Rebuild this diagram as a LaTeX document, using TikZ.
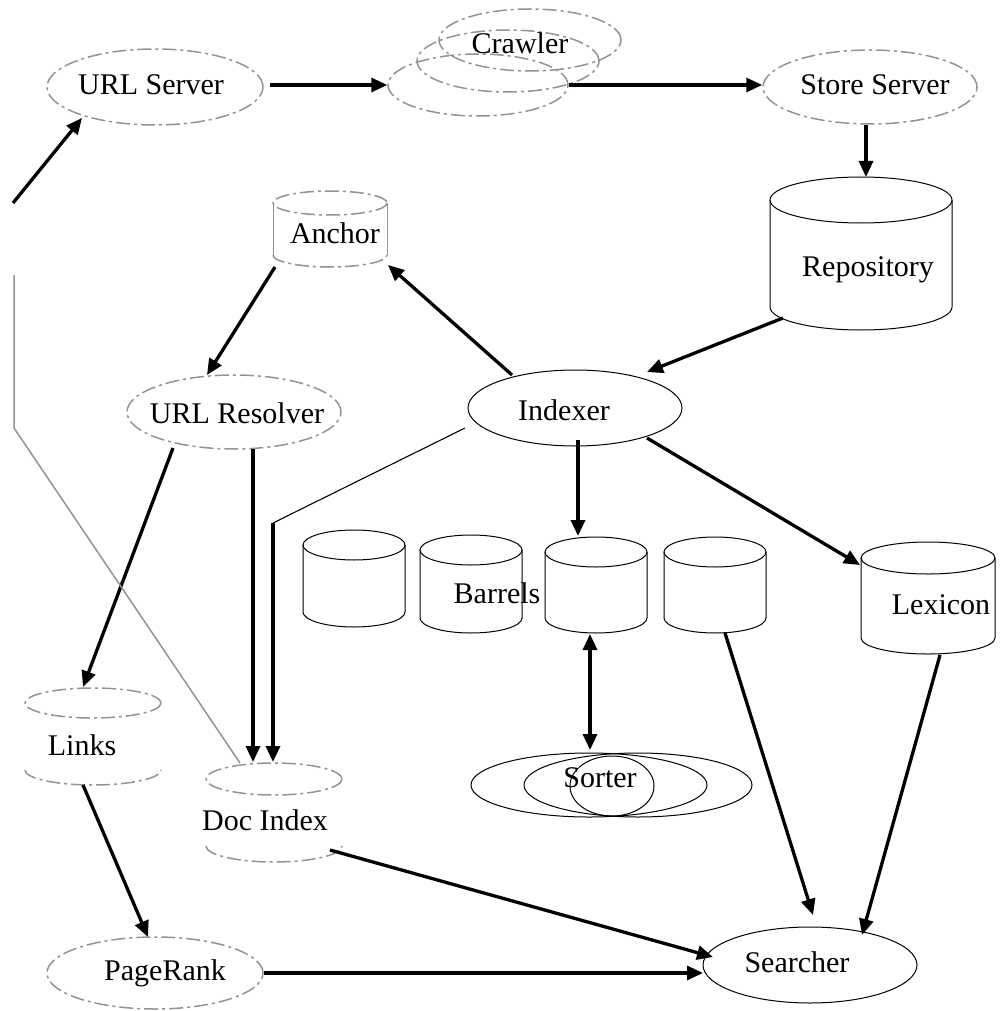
\documentclass[tikz,border=0pt]{standalone}
\usepackage{fontspec}
\setmainfont{Liberation Serif}
\usetikzlibrary{arrows.meta,shapes.geometric}
\newcommand{\solidcyl}[6]{%
  \draw[#1] (#2,#3) ellipse [x radius=#4, y radius=#5];
  \draw[#1] (#2-#4,#3) -- (#2-#4,#6) arc[start angle=180,end angle=0,x radius=#4,y radius=#5] -- (#2+#4,#3);
}
\newcommand{\opencyl}[6]{%
  \draw[#1] (#2,#3) ellipse [x radius=#4, y radius=#5];
  \draw[#1] (#2-#4,#6) arc[start angle=180,end angle=0,x radius=#4,y radius=#5];
}
\begin{document}
\begin{tikzpicture}[x=1pt,y=-1pt,
  lbl/.style={font=\fontsize{30}{36}\selectfont, inner sep=0pt, anchor=center},
  dshape/.style={draw=gray!85, line width=1.5pt, dash pattern=on 14pt off 4pt on 3pt off 4pt},
  sshape/.style={draw=black, line width=1pt},
  ell/.style={ellipse, inner sep=0pt},
  hold/.style={inner sep=0pt, minimum size=1pt},
  arrowtip/.tip={Triangle[length=16pt,width=14pt]},
  conn/.style={line width=3.3pt, -arrowtip},
  biconn/.style={line width=3.3pt, arrowtip-arrowtip},
  thinline/.style={line width=1.1pt},
  grayline/.style={draw=gray!85, line width=1.5pt},
]
\useasboundingbox (0,0) rectangle (1000,1011);

% ---- ellipse nodes ----
\node[ell,dshape,minimum width=216pt,minimum height=76pt] (urls) at (155,87) {};
\node[lbl] (urlsT) at (151,85) {URL Server};

\node[ell,dshape,minimum width=180pt,minimum height=62pt] (c1) at (478,85) {};
\node[ell,dshape,minimum width=182pt,minimum height=62pt] (c2) at (508,61) {};
\node[ell,dshape,minimum width=182pt,minimum height=62pt] (c3) at (530,40) {};
\node[lbl] (crawlT) at (520,43) {Crawler};

\node[ell,dshape,minimum width=214pt,minimum height=74pt] (store) at (870,87) {};
\node[lbl] (storeT) at (875,85) {Store Server};

\node[ell,sshape,minimum width=214pt,minimum height=76pt] (indexer) at (575,408) {};
\node[lbl] (indexerT) at (564,410) {Indexer};

\node[ell,dshape,minimum width=214pt,minimum height=74pt] (resolver) at (234,412) {};
\node[lbl] (resolverT) at (237,413) {URL Resolver};

\node[ell,sshape,minimum width=236pt,minimum height=64pt] (sA) at (589,785) {};
\node[ell,sshape,minimum width=228pt,minimum height=64pt] (sB) at (638,785) {};
\node[ell,sshape,minimum width=84pt,minimum height=60pt] (sC) at (612,786) {};
\node[lbl] (sorterT) at (600,778) {Sorter};

\node[ell,dshape,minimum width=216pt,minimum height=72pt] (pr) at (155,973) {};
\node[lbl] (prT) at (165,973) {PageRank};

\node[ell,sshape,minimum width=214pt,minimum height=76pt] (searcher) at (810,965) {};
\node[lbl] (searcherT) at (797,962) {Searcher};

% ---- cylinders ----
\solidcyl{sshape}{861}{200}{91}{23}{307}
\node[lbl] (repoT) at (868,270) {Repository};

\draw[dshape] (330,203) ellipse [x radius=57, y radius=12];
\draw[grayline,line width=1pt] (273,203) -- (273,255);
\draw[grayline,line width=1pt] (387,203) -- (387,255);
\draw[dshape] (273,255) arc[start angle=180,end angle=0,x radius=57,y radius=12];
\node[lbl] (anchorT) at (335,233) {Anchor};

\solidcyl{sshape}{354}{545}{51}{15}{612}
\solidcyl{sshape}{471}{550}{51}{15}{618}
\solidcyl{sshape}{596}{552}{51}{15}{618}
\solidcyl{sshape}{715}{552}{51}{15}{618}
\node[hold] (b1) at (354,580) {};
\node[hold] (b2) at (471,585) {};
\node[hold] (b3) at (596,585) {};
\node[hold] (b4) at (715,585) {};
\node[lbl] (barrelsT) at (497,593) {Barrels};

\solidcyl{sshape}{928}{558}{67}{16}{638}
\node[lbl] (lexT) at (941,605) {Lexicon};

\opencyl{dshape}{93}{703}{68}{15}{770}
\node[lbl] (linksT) at (82,745) {Links};

\opencyl{dshape}{274}{779}{68}{16}{846}
\node[lbl] (docT) at (265,820) {Doc Index};

% ---- connectors ----
\draw[conn] ([xshift=6pt,yshift=2pt]urls.east) -- (c1.west);
\draw[conn] (c1.east) -- ([yshift=2pt]store.west);
\draw[conn] ([shift={(-4,38)}]store.center) -- ([shift={(-2,-93)}]repoT.center);
\draw[conn] ([shift={(-85,48)}]repoT.center) -- ([shift={(72,-36)}]indexer.center);
\draw[conn] ([shift={(-63,-33)}]indexer.center) -- ([shift={(53,32)}]anchorT.center);
\draw[conn] ([shift={(-60,34)}]anchorT.center) -- ([shift={(-27,-37)}]resolver.center);
\draw[conn] ([shift={(-61,36)}]resolver.center) -- ([shift={(1,-58)}]linksT.center);
\draw[conn] ([shift={(19,37)}]resolver.center) -- ([shift={(-12,-58)}]docT.center);
\coordinate (bend) at (273,523);
\draw[thinline] ([shift={(-110,20)}]indexer.center) -- (bend);
\draw[conn] (bend) -- ([shift={(8,-58)}]docT.center);
\draw[conn] ([shift={(1,40)}]linksT.center) -- ([shift={(-7,-36)}]pr.center);
\draw[conn] (pr.east) -- ([shift={(-107,8)}]searcher.center);
\draw[conn] ([shift={(65,30)}]docT.center) -- ([shift={(-97,-8)}]searcher.center);
\draw[conn] ([shift={(10,48)}]b4.center) -- ([shift={(3,-50)}]searcher.center);
\draw[conn] ([shift={(-1,50)}]lexT.center) -- ([shift={(52,-30)}]searcher.center);
\draw[conn] ([shift={(72,30)}]indexer.center) -- ([shift={(-81,-40)}]lexT.center);
\draw[conn] ([shift={(3,32)}]indexer.center) -- ([shift={(-18,-49)}]b3.center);
\draw[biconn] ([shift={(-6,49)}]b3.center) -- ([shift={(-10,-28)}]sorterT.center);

\coordinate (g1) at (14,428);
\coordinate (g2) at (14,275);
\coordinate (g3) at (13,203);
\draw[grayline] ([shift={(-25,-57)}]docT.center) -- (g1) -- (g2);
\draw[conn] (g3) -- ([shift={(-73,31)}]urls.center);
\end{tikzpicture}
\end{document}
